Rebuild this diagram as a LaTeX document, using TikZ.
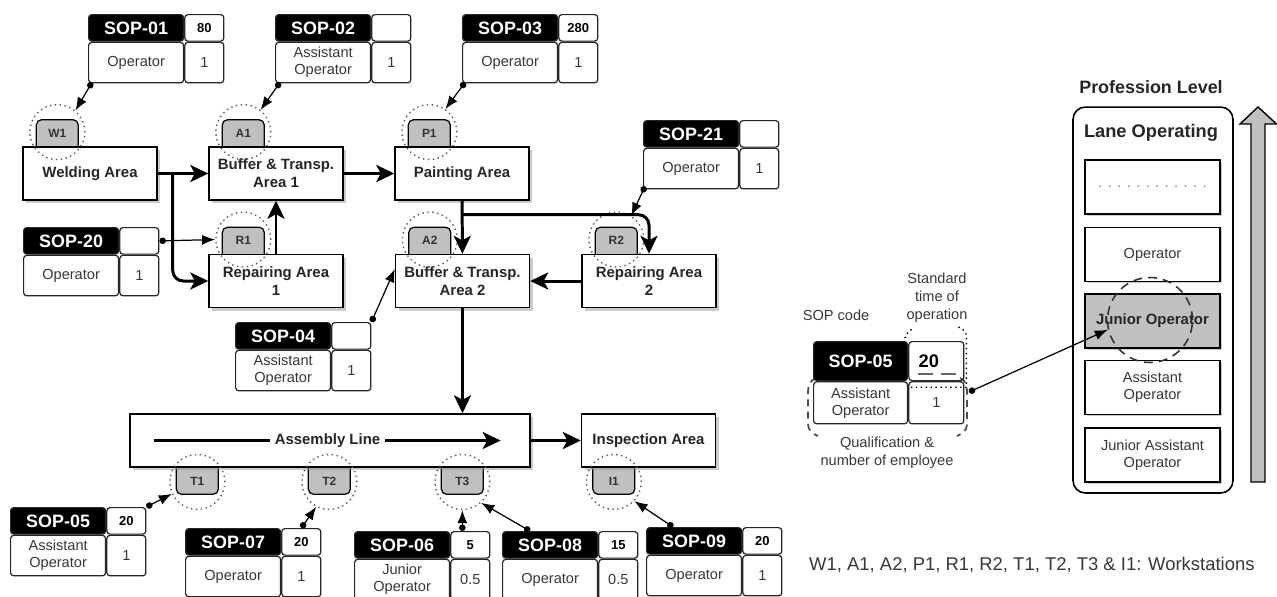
\documentclass[tikz,border=0pt]{standalone}
\usepackage{fontspec}
\setmainfont{Liberation Sans}
\usepackage{tikz}
\usetikzlibrary{positioning, arrows.meta, calc, shadows, backgrounds}
\definecolor{TabGray}{RGB}{192,192,192}
\definecolor{TextGray}{RGB}{55,55,55}
\definecolor{ShadowGray}{RGB}{150,150,150}
\definecolor{RingGray}{RGB}{90,90,90}

\tikzset{
  sopcell/.style={draw=black!85, line width=0.7pt, rounded corners=1.8pt, inner sep=1pt, align=center, text=TextGray, font=\fontsize{8.3}{9.6}\selectfont},
  sophead/.style={sopcell, fill=black, text=white, minimum width=1.9cm, minimum height=0.53cm, font=\bfseries\fontsize{10.2}{12}\selectfont},
  soptime/.style={sopcell, minimum width=0.78cm, minimum height=0.53cm, text=black, font=\bfseries\fontsize{7.4}{9}\selectfont},
  sopqual/.style={sopcell, minimum width=1.9cm, minimum height=0.81cm},
  sopnum/.style={sopcell, minimum width=0.78cm, minimum height=0.81cm},
  area/.style={draw, line width=0.8pt, fill=white, minimum width=2.68cm, minimum height=1.06cm, align=center, text=black!85, font=\bfseries\fontsize{8.5}{10.2}\selectfont, drop shadow={shadow xshift=1.8pt, shadow yshift=-1.8pt, fill=ShadowGray}},
  tabtop/.style={draw, line width=0.7pt, fill=TabGray, rounded corners=3pt, minimum width=0.84cm, inner sep=0pt, text height=0.35cm, text depth=0.33cm, anchor=south, text=black!80, font=\bfseries\fontsize{6.8}{8}\selectfont},
  tabbot/.style={tabtop, text height=0.51cm, text depth=0.17cm, anchor=north},
  wsring/.style={circle, draw=RingGray, dotted, line width=0.8pt, minimum size=1.1cm, inner sep=0pt},
  flow/.style={line width=1.7pt, -{Stealth[length=3.6mm, width=3.4mm, inset=0.9mm]}},
  assign/.style={line width=0.7pt, {Circle[length=1.3mm]}-{Latex[length=2.6mm, width=2mm]}},
  level/.style={draw, line width=0.9pt, fill=white, minimum width=2.7cm, minimum height=1.08cm, align=center, text=TextGray, font=\fontsize{8.3}{9.6}\selectfont, drop shadow={shadow xshift=1pt, shadow yshift=-1pt, fill=ShadowGray}},
  levelmark/.style={level, fill=TabGray, text=black!85, font=\bfseries\fontsize{8.5}{10}\selectfont},
  note/.style={align=center, text=TextGray, font=\fontsize{8.3}{10.2}\selectfont},
}

% SOP card: name, top-left corner, code, time, qualification, count
\newcommand{\sopblock}[6]{%
  \node[sophead, anchor=north west] (#1h) at (#2) {#3};
  \node[soptime, right=0pt of #1h] (#1t) {#4};
  \node[sopqual, below=0pt of #1h] (#1q) {#5};
  \node[sopnum, right=0pt of #1q] (#1n) {#6};
}

\begin{document}
\begin{tikzpicture}[x=0.02cm, y=-0.02cm]
  \useasboundingbox (0,0) rectangle (1277,596);

  % areas
  \node[area] (weld) at (90,173.5) {Welding Area};
  \node[area] (buf1) at (276,173.5) {Buffer \& Transp.\\Area 1};
  \node[area] (paint) at (462,173.5) {Painting Area};
  \node[area] (rep1) at (276,281) {Repairing Area\\1};
  \node[area] (buf2) at (462.5,281) {Buffer \& Transp.\\Area 2};
  \node[area] (rep2) at (649,281) {Repairing Area\\2};
  \node[area, minimum width=8cm] (asm) at (330,440.5) {};
  \node[area] (insp) at (648.5,440.5) {Inspection Area};

  % workstation tabs
  \begin{pgfonlayer}{background}
    \foreach \tb/\lbl/\bx in {w1/W1/weld, a1/A1/buf1, p1/P1/paint, r1/R1/rep1, a2/A2/buf2, r2/R2/rep2}
      \node[tabtop] (\tb) at ($(\bx.north west)+(35,8)$) {\lbl};
    \foreach \tb/\lbl/\bx/\dx in {t1/T1/asm/68, t2/T2/asm/200, t3/T3/asm/333, i1/I1/insp/33}
      \node[tabbot] (\tb) at ($(\bx.south west)+(\dx,-8)$) {\lbl};
  \end{pgfonlayer}
  \foreach \tb in {w1,a1,p1,r1,a2,r2}
    \node[wsring] (c\tb) at ($(\tb.north)+(0,13)$) {};
  \foreach \tb in {t1,t2,t3,i1}
    \node[wsring] (c\tb) at ($(\tb.south)+(0,-13)$) {};

  % material flow
  \coordinate (wsplit) at ($(weld.east)+(15,0)$);
  \coordinate (psplit) at ($(paint.south)+(0,14)$);
  \draw[flow] (weld) -- (buf1);
  \draw[flow, rounded corners=6pt] (wsplit) |- (rep1.west);
  \draw[flow] (rep1) -- (buf1);
  \draw[flow] (buf1) -- (paint);
  \draw[flow] (paint) -- (buf2);
  \draw[flow, rounded corners=6pt] (psplit) -| (rep2.north);
  \draw[flow] (rep2) -- (buf2);
  \draw[flow] (buf2.south) -- (buf2.south |- asm.north);
  \draw[flow] (asm) -- (insp);
  \coordinate (asmin) at ($(asm.west)+(25,0)$);
  \coordinate (asmout) at ($(asm.east)+(-30,0)$);
  \draw[flow] (asmin) -- (asmout) node[midway, fill=white, inner sep=3pt, text=black!85, font=\bfseries\fontsize{8.5}{10}\selectfont] (asmlbl) {Assembly Line};

  % SOP cards
  \sopblock{s01}{88,14}{SOP-01}{80}{Operator}{1}
  \sopblock{s02}{275,14}{SOP-02}{}{Assistant\\Operator}{1}
  \sopblock{s03}{462,14}{SOP-03}{280}{Operator}{1}
  \sopblock{s21}{643,120}{SOP-21}{}{Operator}{1}
  \sopblock{s20}{23,227}{SOP-20}{}{Operator}{1}
  \sopblock{s04}{235,322}{SOP-04}{}{Assistant\\Operator}{1}
  \sopblock{s05}{10,507}{SOP-05}{20}{Assistant\\Operator}{1}
  \sopblock{s07}{185,528}{SOP-07}{20}{Operator}{1}
  \sopblock{s06}{354,531}{SOP-06}{5}{Junior\\Operator}{0.5}
  \sopblock{s08}{502,531}{SOP-08}{15}{Operator}{0.5}
  \sopblock{s09}{646,527}{SOP-09}{20}{Operator}{1}

  \draw[assign] ($(s01q.south west)+(4,-1)$) -- (cw1.50);
  \draw[assign] ($(s02q.south west)+(5,-1)$) -- (ca1.52);
  \draw[assign] ($(s03q.south west)+(3,-1)$) -- (cp1.55);
  \draw[assign] ($(s21q.south west)+(2,-3)$) -- (cr2.58);
  \draw[assign] (s20t.east) -- (cr1.west);
  \draw[assign] (s04t.north east) -- (buf2.170);
  \draw[assign] (s05t.north east) -- (ct1.205);
  \draw[assign] (s07t.north) -- (ct2.242);
  \draw[assign] (s06t.north -| ct3) -- (ct3.south);
  \draw[assign] ($(s08h.north west)+(28,0)$) -- (ct3.-48);
  \draw[assign] ($(s09h.north west)+(27,0)$) -- (ci1.-43);

  % legend card
  \node[note] (sopcode) at (836,315) {SOP code};
  \draw[black!70, line width=1pt, dash pattern=on 4pt off 3pt] (816,378) to[out=-160,in=90] (808,392) -- (808,424) to[out=-90,in=160] (818,436);
  \draw[black!70, line width=1pt, dash pattern=on 4pt off 3pt] (960,378) to[out=-20,in=90] (967,392) -- (967,424) to[out=-90,in=20] (957,436);
  \node[sophead, anchor=north west, minimum width=1.88cm, minimum height=0.78cm] (lgh) at (813,341) {SOP-05};
  \node[soptime, right=0pt of lgh, minimum width=1.1cm, minimum height=0.78cm, font=\bfseries\fontsize{10.4}{12}\selectfont] (lgt) {20\hspace{0.3cm}};
  \node[sopqual, below=0pt of lgh, minimum width=1.88cm, minimum height=0.84cm] (lgq) {Assistant\\Operator};
  \node[sopnum, right=0pt of lgq, minimum width=1.1cm, minimum height=0.84cm] (lgn) {1};
  \draw[black!60, line width=1.1pt, dash pattern=on 8.5pt off 4.5pt] ($(lgt.south west)+(10,-7)$) -- ($(lgt.south east)+(-4,-7)$);
  \draw[dotted, line width=0.8pt] ($(lgt.north west)+(-4,2)$) to[out=90,in=-150] ($(lgt.north west)+(4,-12)$);
  \draw[dotted, line width=0.8pt] ($(lgt.north east)+(-6,-14)$) to[out=-20,in=90] ($(lgt.north east)+(2,-4)$) -- ($(lgn.north east)+(2,6)$) -- ($(lgn.north west)+(0,6)$);
  \node[note] (stdtime) at (937,298) {Standard\\time of\\operation};
  \node[note] (qualtxt) at (887,453) {Qualification \&\\number of employee};

  % profession levels
  \node[font=\bfseries\fontsize{10.2}{12}\selectfont, text=black!85] (proflvl) at (1151,87) {Profession Level};
  \node[draw, line width=0.9pt, rounded corners=7pt, minimum width=3.2cm, minimum height=7.72cm] (lanebox) at (1153,300) {};
  \node[font=\bfseries\fontsize{10.4}{12}\selectfont, text=black!85] (lanetitle) at (1151,133) {Lane Operating};
  \foreach \nm/\yy/\txt in {lv5/187/{\textcolor{gray}{. . . . . . . . . . . .}}, lv4/254.5/Operator, lv2/387.5/{Assistant\\Operator}, lv1/455/{Junior Assistant\\Operator}}
    \node[level] (\nm) at (1152.5,\yy) {\txt};
  \node[levelmark] (lv3) at (1152.5,321) {Junior Operator};
  \node[circle, draw=black!80, line width=0.9pt, dash pattern=on 5pt off 3.5pt, minimum size=1.7cm, inner sep=0pt] (lcirc) at (1150,320) {};
  \draw[line width=0.8pt, fill=TabGray] (1251,482) -- (1251,124) -- (1240,124) -- (1258,107) -- (1276.5,124) -- (1265,124) -- (1265,482) -- cycle;
  \coordinate (legdot) at (969,392);
  \draw[assign] (legdot) -- (lcirc.193);

  \node[anchor=west, text=TextGray, font=\fontsize{10.5}{12}\selectfont] (wsnote) at (803,565) {W1, A1, A2, P1, R1, R2, T1, T2, T3 \& I1: Workstations};
\end{tikzpicture}
\end{document}
